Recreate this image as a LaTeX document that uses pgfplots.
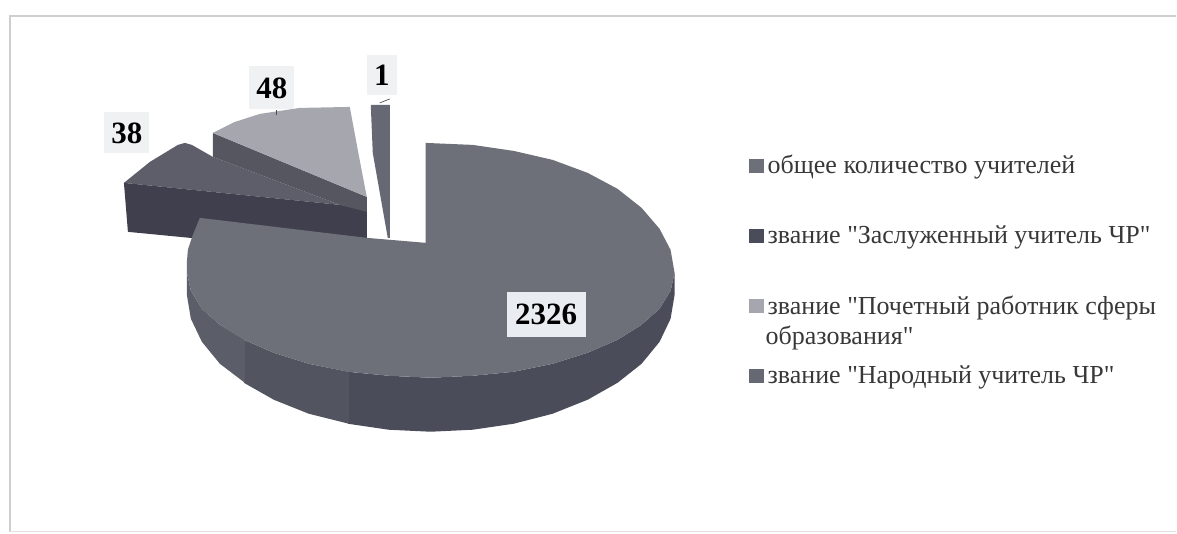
\documentclass[border=0pt]{standalone}
\usepackage{fontspec}
\setmainfont{Liberation Serif}[Ligatures=TeXOff]
\usepackage{pgfplots}
\pgfplotsset{compat=1.18}
\definecolor{topmain}{HTML}{6E7079}
\definecolor{sidemain}{HTML}{4A4C59}
\definecolor{sidemid}{HTML}{525460}
\definecolor{sideleft}{HTML}{5B5D69}
\definecolor{topb}{HTML}{5E5E6A}
\definecolor{sideb}{HTML}{3F3F4D}
\definecolor{topc}{HTML}{A6A6AF}
\definecolor{sidec}{HTML}{565661}
\definecolor{topd}{HTML}{666873}
\definecolor{boxfill}{HTML}{E9EDF1}
\definecolor{boxlight}{HTML}{EFF1F3}
\definecolor{framec}{HTML}{CFCFCF}
\tikzset{
  lbl/.style={font=\fontsize{31}{31}\selectfont\bfseries, inner sep=0pt},
  leg/.style={anchor=base west, font=\fontsize{26}{28}\selectfont, text=black!78, inner sep=0pt},
}
\begin{document}
\begin{tikzpicture}
\begin{axis}[
  scale only axis, width=1177pt, height=534pt,
  xmin=0, xmax=1177, ymin=0, ymax=534, y dir=reverse,
  axis lines=none, clip=false,
]
\path (axis cs:0,0) rectangle (axis cs:1177,534);
% frame of the scanned chart
\addplot[framec, line width=1.5pt] coordinates {(10,532) (10,16) (1177,16)};
\addplot[framec!60, line width=1.5pt] coordinates {(10,532) (1177,532)};

% slice 38
\addplot[fill=topb, draw=none] coordinates {(124,183) (150,162) (178,145) (185,143) (192,145) (213,157) (340,205) (124,183)};
\addplot[fill=sideb, draw=none] coordinates {(124,183) (128,232) (190,238) (367,238) (367,210) (340,205)};
% slice 48
\addplot[fill=sidec, draw=none] coordinates {(213,133) (213,157) (340,205) (367,212) (367,197)};
\addplot[fill=topc, draw=none] coordinates {(213,133) (235,122) (260,114) (300,108) (350,107) (358,150) (367,197)};
% slice 1
\addplot[fill=topd, draw=none] coordinates {(371,105) (390,105) (390,238) (388,238) (373,153)};

% big slice: rim (lighter towards the left), then top face
\addplot[fill=sidemain, draw=none] coordinates {(675,273) (675,295) (671,319) (660,342) (642,364) (618,383) (588,400) (553,414) (514,424) (473,430) (431,432) (389,430) (348,424) (348,372) (389,376) (431,378) (473,376) (514,372) (553,364) (588,353) (618,340) (642,325) (660,309) (671,291)};
\addplot[fill=sidemid, draw=none] coordinates {(349,424) (309,414) (274,400) (244,383) (244,340) (274,353) (309,364) (349,372)};
\addplot[fill=sideleft, draw=none] coordinates {(245,383) (220,364) (202,342) (191,319) (187,295) (187,273) (191,291) (202,309) (220,325) (245,340)};
\addplot[fill=topmain, draw=none] coordinates {(426,143) (473,145) (514,151) (553,160) (588,173) (618,189) (642,208) (660,229) (671,250) (675,273) (671,291) (660,309) (642,325) (618,340) (588,353) (553,364) (514,372) (473,376) (431,378) (389,376) (348,372) (309,364) (274,353) (244,340) (220,325) (202,309) (191,291) (187,273) (187,262) (188,250) (193,235) (200,218) (367,238) (426,243)};

% leader ticks
\addplot[black!70, line width=0.7pt] coordinates {(277,110) (277,115)};
\addplot[black!70, line width=0.7pt] coordinates {(380,103) (390,99)};

% legend squares
\addplot[only marks, mark=square*, mark size=6.8pt, mark options={draw=topmain, fill=topmain}] coordinates {(756.5,166)};
\addplot[only marks, mark=square*, mark size=6.8pt, mark options={draw=sidemain, fill=sidemain}] coordinates {(756.5,236)};
\addplot[only marks, mark=square*, mark size=6.8pt, mark options={draw=topc, fill=topc}] coordinates {(756.5,306)};
\addplot[only marks, mark=square*, mark size=6.8pt, mark options={draw=topd, fill=topd}] coordinates {(756.5,376)};

% value labels
\node[lbl, fill=boxfill, minimum width=79pt, minimum height=45pt] at (axis cs:546.5,314.5) {2326};
\node[lbl, fill=boxlight, minimum width=45pt, minimum height=41pt] at (axis cs:127,133) {38};
\node[lbl, fill=boxlight, minimum width=45pt, minimum height=43pt] at (axis cs:272,88) {48};
\node[lbl, fill=boxlight, minimum width=30pt, minimum height=40pt] at (axis cs:382,75) {1};

% legend text
\node[leg] at (axis cs:768,174) {общее количество учителей};
\node[leg] at (axis cs:768,244) {звание "Заслуженный учитель ЧР"};
\node[leg] at (axis cs:768,315) {звание "Почетный работник сферы};
\node[leg] at (axis cs:766,345) {образования"};
\node[leg] at (axis cs:768,384) {звание "Народный учитель ЧР"};
\end{axis}
\end{tikzpicture}
\end{document}
